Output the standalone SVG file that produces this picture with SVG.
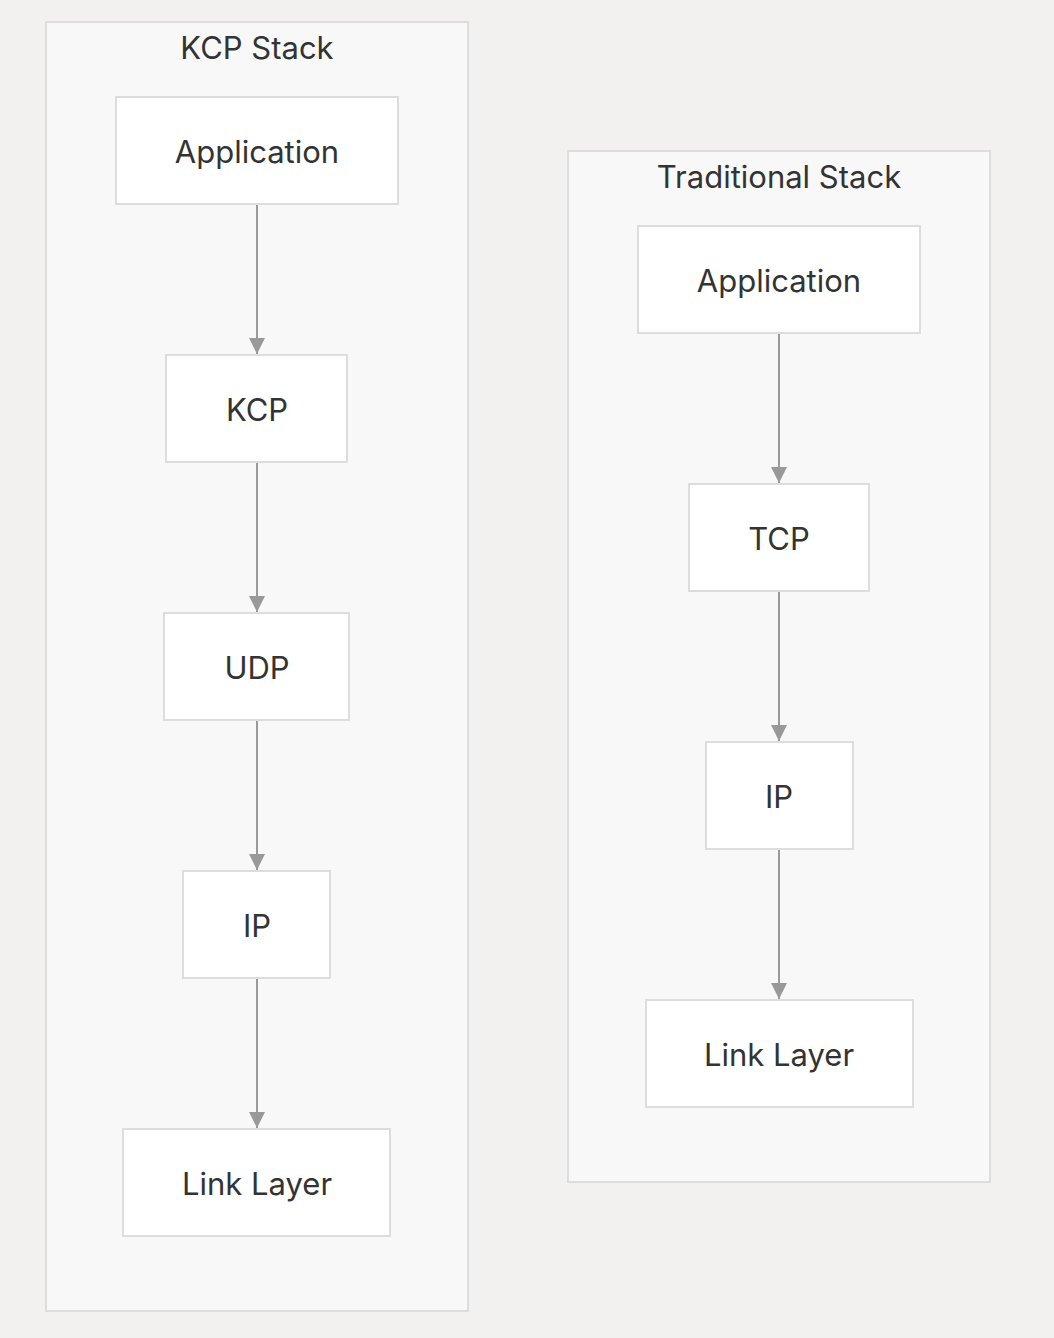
<svg xmlns="http://www.w3.org/2000/svg" width="1054" height="1338" viewBox="0 0 1054 1338">
<style>
.cl{fill:#f8f8f8;stroke:#dddddd;stroke-width:2}
.nd{fill:#ffffff;stroke:#dddddd;stroke-width:2}
text{font-family:Inter,"Noto Sans","Liberation Sans",sans-serif;fill:#333333;text-anchor:middle;dominant-baseline:central}
.t{font-size:31px}
.lb{font-size:31px}
.ed{stroke:#999999;stroke-width:2;fill:none}
</style>
<defs>
<marker id="ah" viewBox="0 0 16 16" refX="16" refY="8" markerWidth="16" markerHeight="16" markerUnits="userSpaceOnUse" orient="auto">
<path d="M0,0 L16,8 L0,16 Z" fill="#999999"/>
</marker>
</defs>
<rect width="1054" height="1338" fill="#f2f1f0"/>
<g id="cluster-kcp">
<rect class="cl" x="46" y="22" width="422" height="1289"/>
<text class="t" x="257" y="47">KCP Stack</text>
</g>
<g id="cluster-traditional">
<rect class="cl" x="568" y="151" width="422" height="1031"/>
<text class="t" x="779" y="176">Traditional Stack</text>
</g>
<g id="edges">
<line class="ed" x1="257" y1="205" x2="257" y2="354" marker-end="url(#ah)"/>
<line class="ed" x1="257" y1="463" x2="257" y2="612" marker-end="url(#ah)"/>
<line class="ed" x1="257" y1="721" x2="257" y2="870" marker-end="url(#ah)"/>
<line class="ed" x1="257" y1="979" x2="257" y2="1128" marker-end="url(#ah)"/>
<line class="ed" x1="779" y1="334" x2="779" y2="483" marker-end="url(#ah)"/>
<line class="ed" x1="779" y1="592" x2="779" y2="741" marker-end="url(#ah)"/>
<line class="ed" x1="779" y1="850" x2="779" y2="999" marker-end="url(#ah)"/>
</g>
<g id="kcp-app"><rect class="nd" x="116" y="97" width="282" height="107"/><text class="lb" x="257" y="151">Application</text></g>
<g id="kcp-kcp"><rect class="nd" x="166" y="355" width="181" height="107"/><text class="lb" x="257" y="409">KCP</text></g>
<g id="kcp-udp"><rect class="nd" x="164" y="613" width="185" height="107"/><text class="lb" x="257" y="667">UDP</text></g>
<g id="kcp-ip"><rect class="nd" x="183" y="871" width="147" height="107"/><text class="lb" x="257" y="925">IP</text></g>
<g id="kcp-link"><rect class="nd" x="123" y="1129" width="267" height="107"/><text class="lb" x="257" y="1183">Link Layer</text></g>
<g id="trad-app"><rect class="nd" x="638" y="226" width="282" height="107"/><text class="lb" x="779" y="280">Application</text></g>
<g id="trad-tcp"><rect class="nd" x="689" y="484" width="180" height="107"/><text class="lb" x="779" y="538">TCP</text></g>
<g id="trad-ip"><rect class="nd" x="706" y="742" width="147" height="107"/><text class="lb" x="779" y="796">IP</text></g>
<g id="trad-link"><rect class="nd" x="646" y="1000" width="267" height="107"/><text class="lb" x="779" y="1054">Link Layer</text></g>
</svg>
